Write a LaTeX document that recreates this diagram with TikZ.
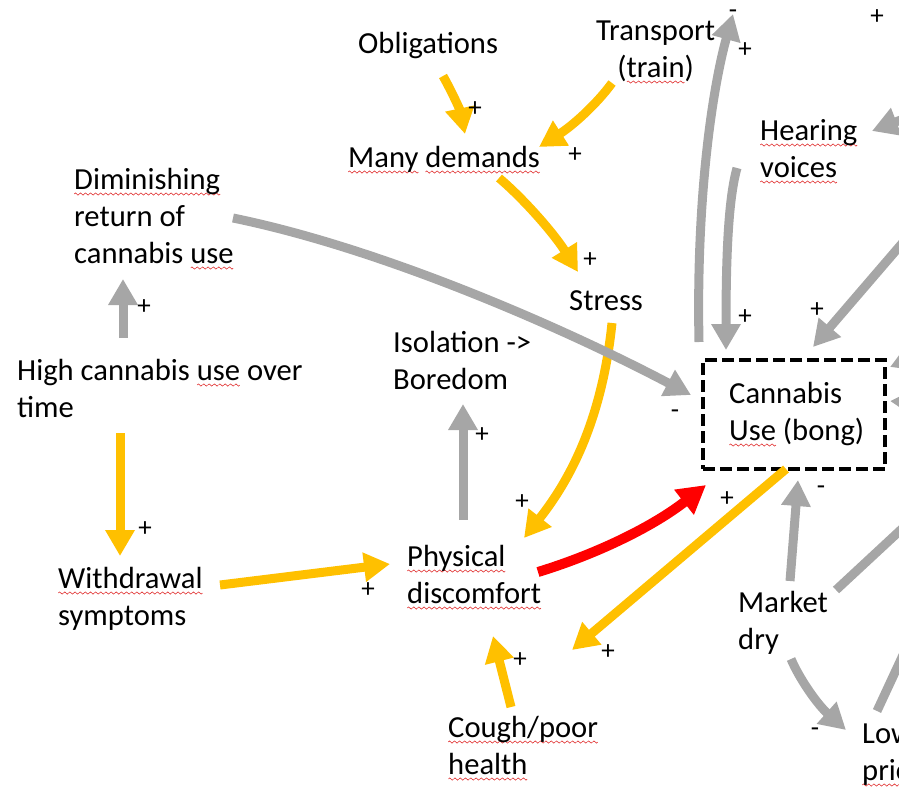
\documentclass[tikz,border=0pt]{standalone}
\usepackage{fontspec}
\setmainfont{Carlito}
\usetikzlibrary{arrows.meta}

\definecolor{cgray}{HTML}{A6A6A6}
\definecolor{cyel}{HTML}{FFC000}
\definecolor{cred}{HTML}{FF0000}
\definecolor{wavered}{HTML}{E03030}

% red wavy underline for flagged words, tiled from one wave period
\newsavebox\wavebox
\newcommand\sq[1]{\setbox0\hbox{#1}\rlap{\raise-5pt\hbox to \wd0{\xleaders\copy\wavebox\hfill}}\box0\relax}

\newcommand\lines[1]{\begin{tabular}[t]{@{}l@{}}#1\end{tabular}}
\newcommand\clines[1]{\begin{tabular}[t]{@{}c@{}}#1\end{tabular}}

\tikzset{
  txt/.style={inner sep=0pt, anchor=base west, font=\fontsize{30.6}{37}\selectfont},
  sign/.style={inner sep=0pt, anchor=base, font=\fontsize{27}{30}\selectfont},
  arr/.style={line width=9pt, -{Triangle[width=28pt,length=26pt]}},
  gr/.style={arr, draw=cgray},
  yl/.style={arr, draw=cyel},
  rd/.style={arr, draw=cred, line width=10pt, -{Triangle[width=30pt,length=28pt]}},
  grline/.style={line width=9pt, draw=cgray},
  cbox/.style={draw=black, line width=4pt, dash pattern=on 12pt off 5pt, inner sep=0pt}
}

\begin{document}
\sbox\wavebox{\begin{pgfpicture}
  \pgfpathmoveto{\pgfpoint{0pt}{0pt}}
  \pgfpathsine{\pgfpoint{1.25pt}{1.1pt}}
  \pgfpathcosine{\pgfpoint{1.25pt}{-1.1pt}}
  \pgfpathsine{\pgfpoint{1.25pt}{-1.1pt}}
  \pgfpathcosine{\pgfpoint{1.25pt}{1.1pt}}
  \pgfsetlinewidth{0.6pt}\pgfsetstrokecolor{wavered}
  \pgfusepath{stroke}
  \pgfresetboundingbox
  \pgfpathrectangle{\pgfpoint{0pt}{-1.5pt}}{\pgfpoint{5pt}{3pt}}
  \pgfusepath{use as bounding box}
  \pgfsetbaseline{0pt}
\end{pgfpicture}}%
\begin{tikzpicture}[x=1pt, y=-1pt]
\useasboundingbox (0,0) rectangle (899,793);

% ---------------- variables ----------------
\node[txt] (obl) at (358,53) {Obligations};
\node[txt] (trn) at (596,40) {\clines{Transport\\(\sq{train})}};
\node[txt] (dem) at (348,167) {\sq{Many} \sq{demands}};
\node[txt] (dim) at (74,189) {\lines{\sq{Diminishing}\\return of\\cannabis \sq{use}}};
\node[txt] (str) at (569,310) {Stress};
\node[txt] (hear) at (760,140) {\lines{\sq{Hearing}\\\sq{voices}}};
\node[txt] (hi) at (17,380) {\lines{High cannabis \sq{use} over\\time}};
\node[txt] (iso) at (393,352) {\lines{Isolation ->\\Boredom}};
\node[cbox, minimum width=182pt, minimum height=109pt, anchor=north west] (can) at (701,358) {};
\node[txt] (cantxt) at (729,403) {\lines{Cannabis\\\sq{Use} (bong)}};
\node[txt] (phy) at (407,566) {\lines{\sq{Physical}\\\sq{discomfort}}};
\node[txt] (wd) at (58,588) {\lines{\sq{Withdrawal}\\symptoms}};
\node[txt] (mkt) at (738,612) {\lines{Market\\dry}};
\node[txt] (cgh) at (448,737) {\lines{\sq{Cough/}\sq{poor}\\\sq{health}}};
\node[txt] (low) at (862,743) {\lines{Low\\\sq{price}}};

% ---------------- connector end points ----------------
\coordinate (obl-out) at (443,76);   \coordinate (dem-in1) at (465,134);
\coordinate (trn-out) at (612,83);   \coordinate (dem-in2) at (539,147);
\coordinate (dem-out) at (499,178);  \coordinate (str-in) at (578,272);
\coordinate (str-out) at (612,323);  \coordinate (phy-in1) at (524,538);
\coordinate (dim-out) at (233,218);  \coordinate (can-in1) at (691,395);
\coordinate (hi-up) at (123,338);    \coordinate (dim-in) at (123,279);
\coordinate (hi-down) at (120,433);  \coordinate (wd-in) at (120,556);
\coordinate (wd-out) at (220,585);   \coordinate (phy-in2) at (390,564);
\coordinate (phy-up) at (463,520);   \coordinate (iso-in) at (463,404);
\coordinate (phy-out) at (538,572);  \coordinate (can-in2) at (706,485);
\coordinate (can-out1) at (786,469); \coordinate (phy-in3) at (572,650);
\coordinate (cgh-out) at (511,707);  \coordinate (phy-in4) at (493,636);
\coordinate (mkt-up) at (790,581);   \coordinate (can-in3) at (798,480);
\coordinate (mkt-down) at (791,659); \coordinate (low-in) at (846,730);
\coordinate (low-out) at (877,711);  \coordinate (low-far) at (910,640);
\coordinate (mkt-right) at (836,590);\coordinate (mkt-far) at (920,512);
\coordinate (can-out2) at (699,342); \coordinate (top-in) at (733,14);
\coordinate (hear-out) at (737,168); \coordinate (can-in4) at (726,350);
\coordinate (ne-far) at (905,240);   \coordinate (can-in5) at (813,347);
\coordinate (e-far1) at (945,103);   \coordinate (hear-in) at (872,131);
\coordinate (e-far2) at (935,348);   \coordinate (can-in6) at (890,367);
\coordinate (e-far3) at (935,404);   \coordinate (can-in7) at (890,401);

% ---------------- connectors ----------------
\draw[yl] (obl-out) .. controls (452,92) and (460,110) .. (dem-in1);
\draw[yl] (trn-out) .. controls (596,105) and (572,126) .. (dem-in2);
\draw[yl] (dem-out) .. controls (525,200) and (555,235) .. (str-in);
\draw[yl] (str-out) .. controls (602,420) and (570,480) .. (phy-in1);
\draw[gr] (dim-out) .. controls (380,248) and (560,326) .. (can-in1);
\draw[gr] (hi-up) -- (dim-in);
\draw[yl] (hi-down) -- (wd-in);
\draw[yl] (wd-out) -- (phy-in2);
\draw[gr] (phy-up) -- (iso-in);
\draw[rd] (phy-out) .. controls (600,553) and (655,525) .. (can-in2);
\draw[yl] (can-out1) -- (phy-in3);
\draw[yl] (cgh-out) -- (phy-in4);
\draw[gr] (mkt-up) -- (can-in3);
\draw[gr] (mkt-down) .. controls (800,680) and (818,705) .. (low-in);
\draw[grline] (low-out) -- (low-far);
\draw[grline] (mkt-right) -- (mkt-far);
\draw[gr] (can-out2) .. controls (696,200) and (712,90) .. (top-in);
\draw[gr] (hear-out) .. controls (728,200) and (726,260) .. (can-in4);
\draw[gr] (ne-far) -- (can-in5);
\draw[gr] (e-far1) -- (hear-in);
\draw[gr] (e-far2) -- (can-in6);
\draw[gr] (e-far3) -- (can-in7);

% ---------------- polarity signs ----------------
\node[sign] (s1) at (475,116) {+};
\node[sign] (s2) at (575,162) {+};
\node[sign] (s3) at (590,267) {+};
\node[sign] (s4) at (522,509) {+};
\node[sign] (s5) at (144,314) {+};
\node[sign] (s6) at (145,536) {+};
\node[sign] (s7) at (368,597) {+};
\node[sign] (s8) at (482,442) {+};
\node[sign] (s9) at (727,506) {+};
\node[sign] (s10) at (608,659) {+};
\node[sign] (s11) at (520,667) {+};
\node[sign] (s12) at (745,324) {+};
\node[sign] (s13) at (817,317) {+};
\node[sign] (s14) at (745,57) {+};
\node[sign] (s15) at (877,24) {+};
\node[sign] (m1) at (675,418) {-};
\node[sign] (m2) at (821,494) {-};
\node[sign] (m3) at (815,736) {-};
\node[sign] (m4) at (733,18) {-};
\end{tikzpicture}
\end{document}
